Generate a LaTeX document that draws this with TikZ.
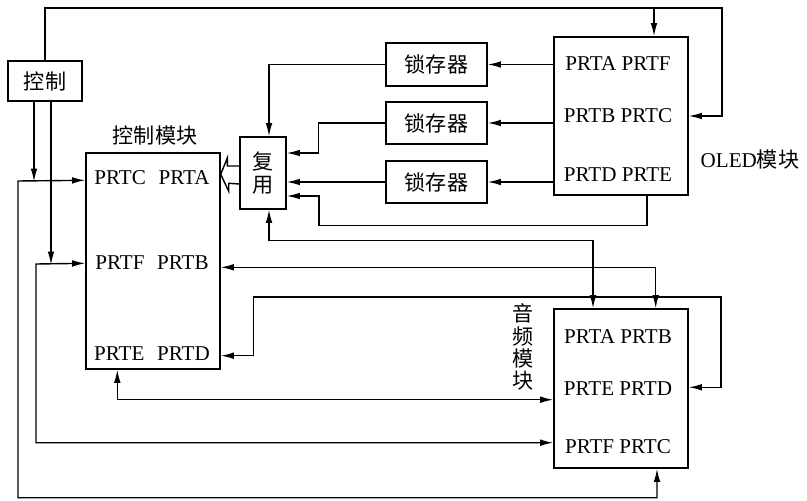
\documentclass[tikz,border=0pt]{standalone}
\usepackage{fontspec}
\setmainfont{Liberation Serif}
\newfontfamily\cjk{Noto Sans CJK SC}
\usetikzlibrary{calc,arrows.meta}

\begin{document}
\begin{tikzpicture}[x=0.02cm,y=-0.02cm,line width=0.8pt,>={Latex[length=7.5pt,width=3.8pt]},
  font=\fontsize{12}{14}\selectfont,
  blk/.style 2 args={draw,inner sep=0pt,minimum width=#1*0.02cm,minimum height=#2*0.02cm},
  cn/.style={font=\cjk\fontsize{12}{12.6}\selectfont},
  txt/.style={inner sep=0pt}]
  \useasboundingbox (0,0) rectangle (807,500);

  \node[blk={74}{40},cn] (ctrl) at (45,81) {控制};
  \node[blk={134}{216}] (ctrlmod) at (153,261) {};
  \node[blk={134}{158}] (oled) at (621,116) {};
  \node[blk={134}{159}] (audio) at (621,388.5) {};
  \node[blk={101}{43},cn] (latch1) at (436.5,64.5) {锁存器};
  \node[blk={101}{42},cn] (latch2) at (436.5,123) {锁存器};
  \node[blk={101}{42},cn] (latch3) at (436.5,182) {锁存器};
  \node[blk={46}{72},cn,align=center] (mux) at (263,173) {复\\用};

  \node[txt] (ca) at (152,178) {PRTC\hspace{0.6em}PRTA};
  \node[txt] (cb) at (152,263) {PRTF\hspace{0.6em}PRTB};
  \node[txt] (cc) at (152,354) {PRTE\hspace{0.6em}PRTD};
  \node[txt] (oa) at (618,64) {PRTA PRTF};
  \node[txt] (ob) at (618,115.5) {PRTB PRTC};
  \node[txt] (oc) at (618,174.5) {PRTD PRTE};
  \node[txt] (aa) at (618,337) {PRTA PRTB};
  \node[txt] (ab) at (618,389) {PRTE PRTD};
  \node[txt] (ac) at (618,447) {PRTF PRTC};

  \node[txt,cn] (ctrlmodlbl) at (155,135) {控制模块};
  \node[txt,anchor=west] (oledlbl) at (700,160) {OLED{\cjk 模块}};
  \node[txt,cn,align=center] (audiolbl) at (523,347) {音\\频\\模\\块};

  \draw[->] (oled.west |- latch1) -- (latch1.east);
  \draw[->] (oled.west |- latch2) -- (latch2.east);
  \draw[->] (oled.west |- latch3) -- (latch3.east);
  \draw[->] (latch1.west) -| ([xshift=0.12cm]mux.north);
  \draw[->] (latch2.west) -- ++(-67,0) |- ([yshift=0.4cm]mux.east);
  \draw[->] (latch3.west) -- (latch3.west -| mux.east);
  \draw[->] ([xshift=0.52cm]oled.south) -- ++(0,30) -- ++(-328,0) |- ([yshift=-0.46cm]mux.east);
  \draw[<->] ([xshift=0.12cm]mux.south) -- ++(0,31) -| ([xshift=-0.56cm]audio.north);
  \draw ([yshift=0.14cm]mux.west) -- ++(-12,0) -- ++(0,-8) -- ($(ctrlmod.north east)+(0,22)$)
    -- ++(8,17) -- ++(0,-8) -- ([yshift=-0.22cm]mux.west);

  \draw[->] (ctrl.north) |- (722,8) |- (oled.east);
  \coordinate (tap) at (654,8);
  \draw[->] (tap) -- (tap |- oled.north);
  \draw[->] ([xshift=-0.22cm]ctrl.south) -- ++(0,80);
  \draw[->] ([xshift=0.12cm]ctrl.south) -- ++(0,163);

  \draw[<->] ([xshift=0.72cm]audio.south) -- ++(0,29) -| (18,181) -- ($(ctrlmod.north west)+(0,28)$);
  \draw[<->] ($(audio.south west)+(0,-26)$) -| (36,264) -- ($(ctrlmod.north west)+(0,111)$);
  \draw[<->] ($(audio.south west)+(0,-69)$) -| ($(ctrlmod.south west)+(32,0)$);
  \draw[<->] ($(ctrlmod.north east)+(0,115)$) -| ($(audio.north east)+(-33,0)$);
  \draw[<->] ($(ctrlmod.south east)+(0,-14)$) -- ++(33,0) |- (721,297) |- ($(audio.north east)+(0,79)$);
\end{tikzpicture}
\end{document}
